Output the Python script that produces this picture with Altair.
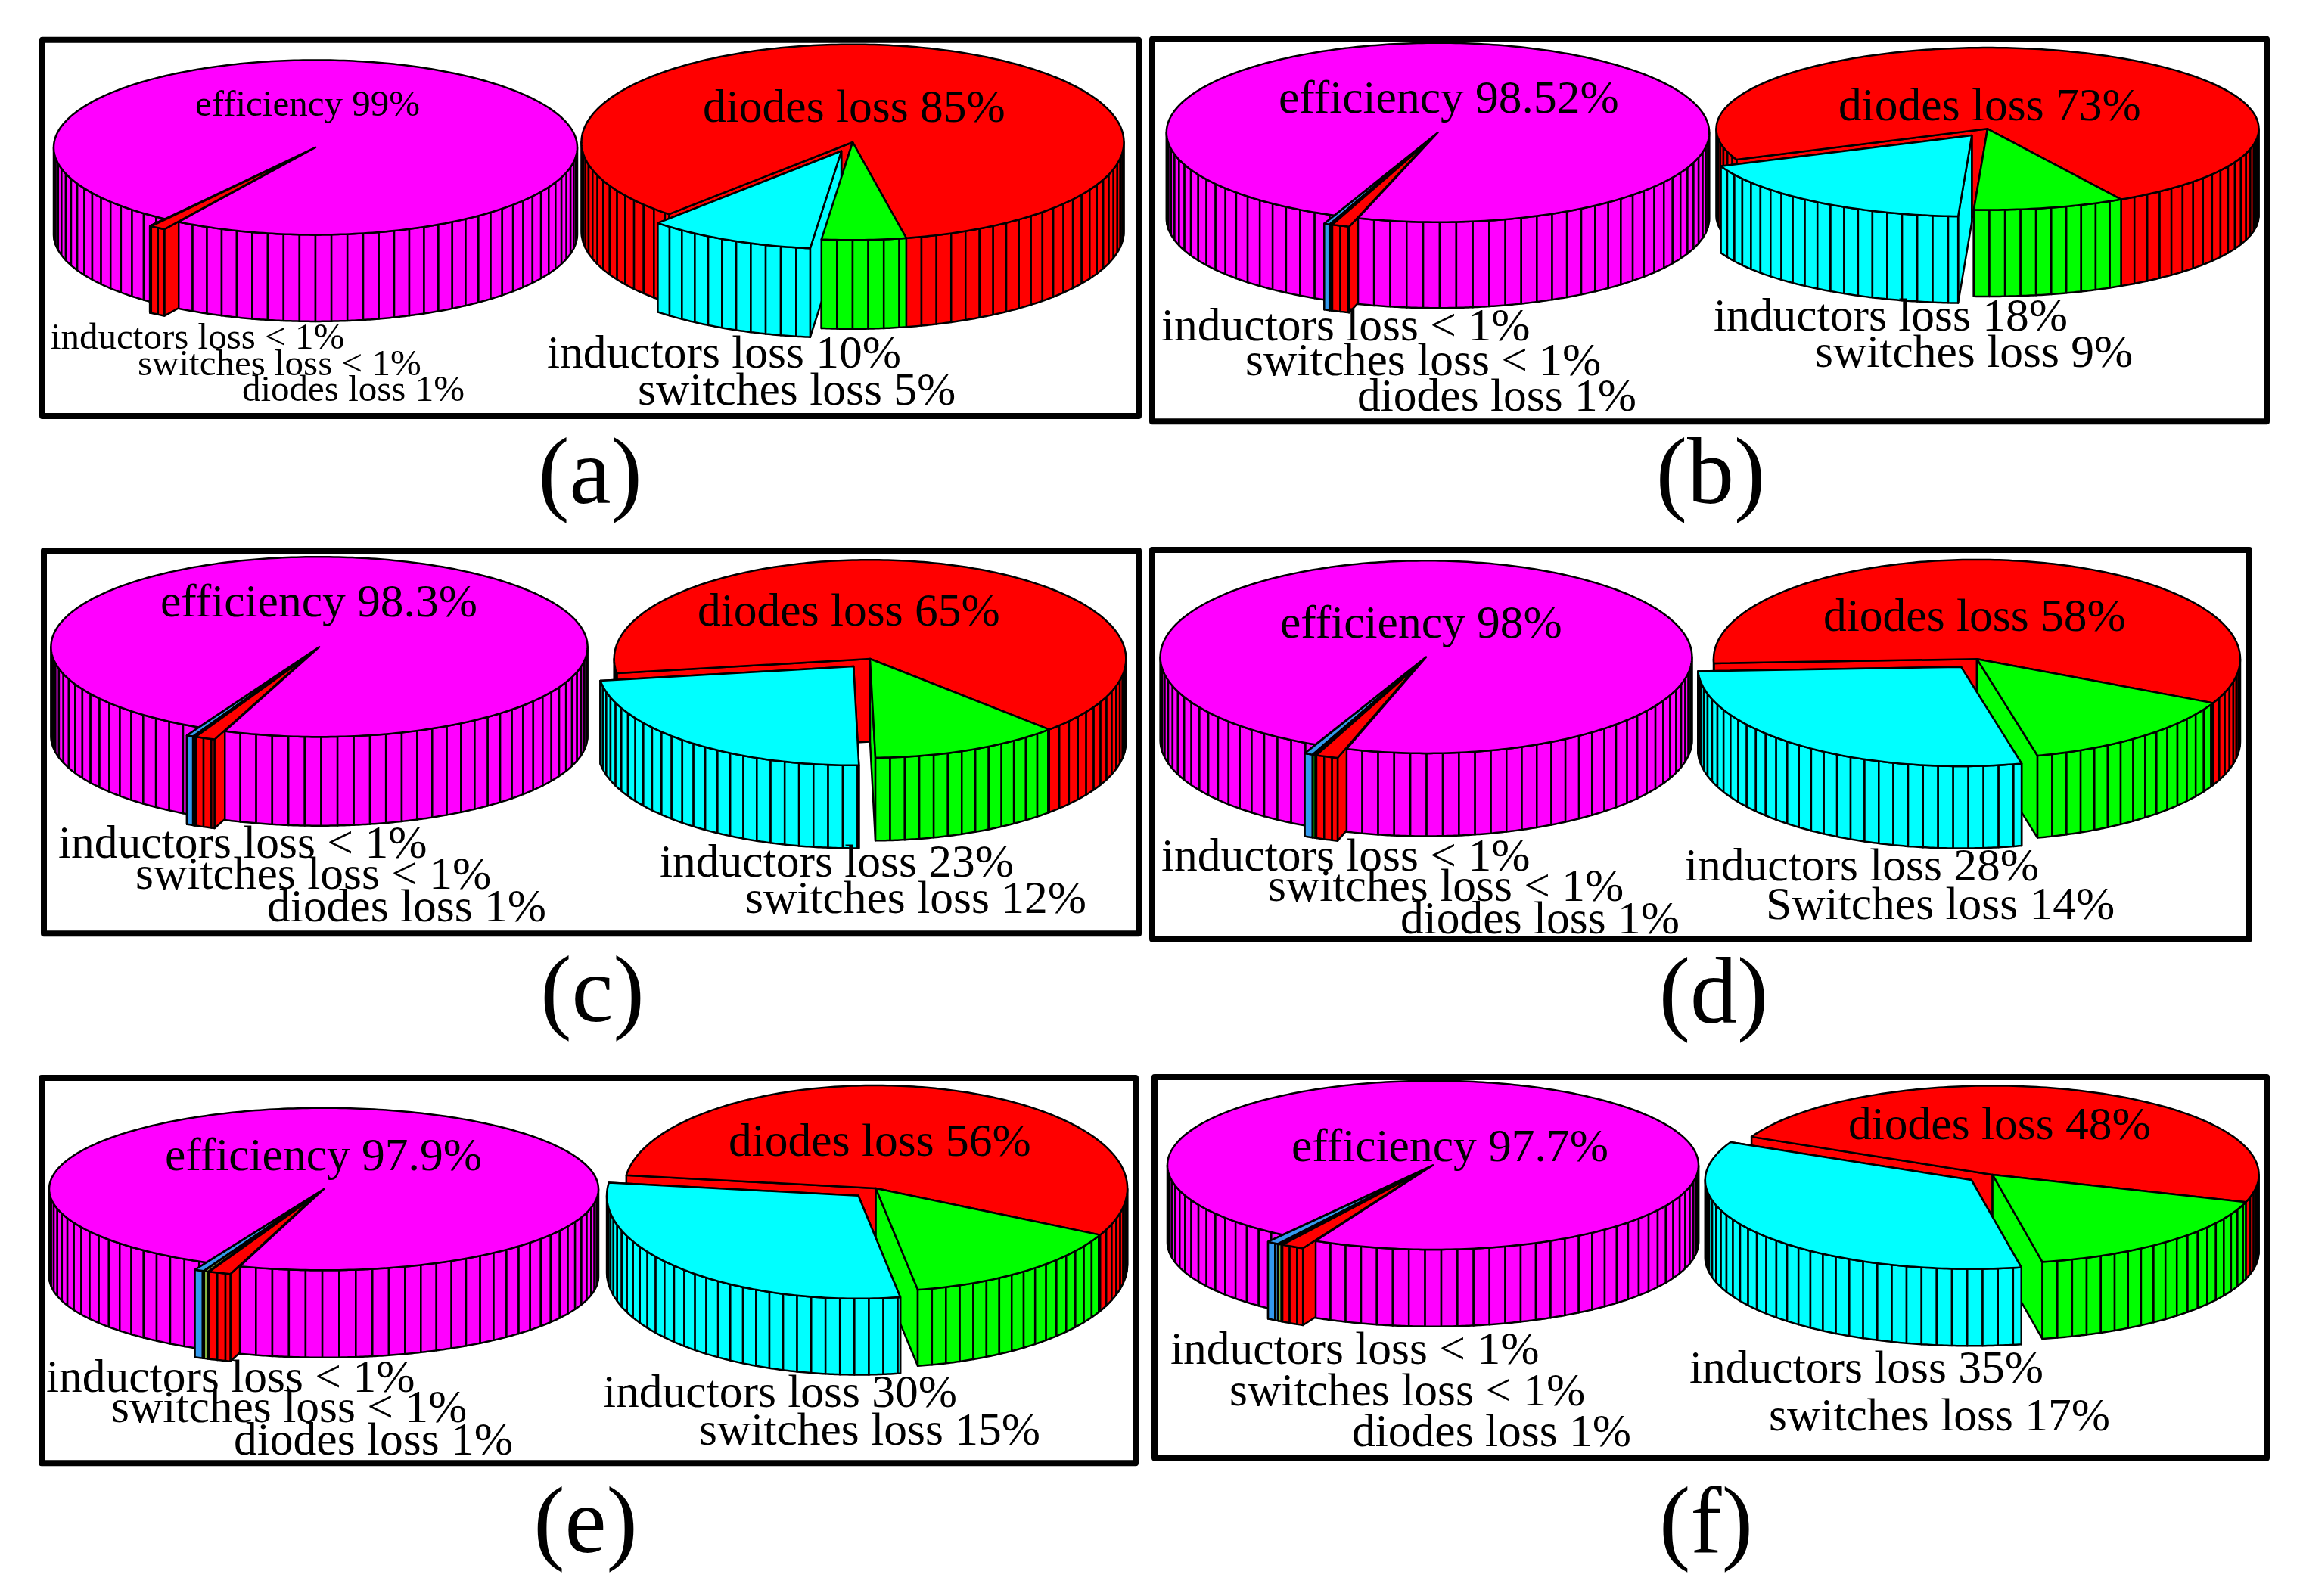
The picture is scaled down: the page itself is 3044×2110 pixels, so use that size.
import math
import altair as alt
import pandas as pd

# ---------- values (percent) ----------
efficiency = [99, 98.52, 98.3, 98, 97.9, 97.7]
left_inductors = [0.02, 0.33, 0.4, 0.5, 0.55, 0.7]
left_switches = [0.02, 0.1, 0.1, 0.15, 0.25, 0.2]
left_diodes = [0.96, 1.05, 1.2, 1.35, 1.3, 1.4]
right_diodes = [85, 73, 65, 58, 56, 48]
right_inductors = [10, 18, 23, 28, 30, 35]
right_switches = [5, 9, 12, 14, 15, 17]
panel_names = ["(a)", "(b)", "(c)", "(d)", "(e)", "(f)"]

# ---------- layout: pie geometry, frame and text anchors (image pixels) ----------
left_geom = [  # cx, cy, rx, ry, depth, wedge end angle
    (417, 194.9, 346, 115.5, 114.5, -31.5),
    (1900.5, 175.2, 358.7, 118.5, 113.5, -17.1),
    (422, 855.2, 354.6, 119, 117.5, -20.6),
    (1885, 868.6, 351.4, 127.3, 109.6, -17.4),
    (428, 1572, 363, 107.3, 115.5, -17.8),
    (1894, 1540.4, 351, 111.6, 101.7, -26.2),
]
right_geom = [  # cx, cy, rx, ry, depth, switches start angle
    (1127, 188, 358.5, 129.3, 117.5, -6.6),
    (2627, 170.3, 358.5, 107.2, 114.5, -2.9),
    (1150, 871, 338.3, 130.8, 109.6, 1.2),
    (2613, 871.2, 348, 131.3, 108.6, 13.3),
    (1157.6, 1571, 332.5, 136, 100.7, 9.6),
    (2633.6, 1552.9, 352, 117.5, 101.7, 10.8),
]
frames = [
    (56, 52.7, 1505, 550), (1523, 51.8, 2996, 557.3),
    (58, 727.9, 1505, 1234.3), (1523, 727, 2973, 1241.4),
    (55, 1425, 1501, 1934.3), (1526, 1424, 2996, 1927.4),
]
labels = [
    ("efficiency 99%", 258, 153.4, 49), ("diodes loss 85%", 929, 161.3, 61.5),
    ("inductors loss < 1%", 67, 461.4, 49), ("switches loss < 1%", 182, 496, 49),
    ("diodes loss 1%", 320, 529.5, 49), ("inductors loss 10%", 723, 486, 61.5),
    ("switches loss 5%", 843, 534.5, 61.5),
    ("efficiency 98.52%", 1690, 148.6, 61.5), ("diodes loss 73%", 2430, 158.5, 61.5),
    ("inductors loss < 1%", 1535, 449.7, 61.5), ("switches loss < 1%", 1646, 496, 61.5),
    ("diodes loss 1%", 1794, 542.5, 61.5), ("inductors loss 18%", 2265, 436.9, 61.5),
    ("switches loss 9%", 2399, 485.2, 61.5),
    ("efficiency 98.3%", 212, 814.8, 61.5), ("diodes loss 65%", 922, 826.6, 61.5),
    ("inductors loss < 1%", 77, 1134.1, 61.5), ("switches loss < 1%", 179, 1175, 61.5),
    ("diodes loss 1%", 353, 1217.5, 61.5), ("inductors loss 23%", 872, 1159.3, 61.5),
    ("switches loss 12%", 985, 1206.7, 61.5),
    ("efficiency 98%", 1692, 842.5, 61.5), ("diodes loss 58%", 2410, 833.7, 61.5),
    ("inductors loss < 1%", 1535, 1150.5, 61.5), ("switches loss < 1%", 1676, 1191, 61.5),
    ("diodes loss 1%", 1851, 1233.5, 61.5), ("inductors loss 28%", 2227, 1164.4, 61.5),
    ("Switches loss 14%", 2334, 1214.7, 61.5),
    ("efficiency 97.9%", 218, 1547.3, 61.5), ("diodes loss 56%", 963, 1527.6, 61.5),
    ("inductors loss < 1%", 61, 1839.6, 61.5), ("switches loss < 1%", 147, 1880, 61.5),
    ("diodes loss 1%", 309, 1922.5, 61.5), ("inductors loss 30%", 797, 1860.3, 61.5),
    ("switches loss 15%", 924, 1909.7, 61.5),
    ("efficiency 97.7%", 1707, 1534.5, 61.5), ("diodes loss 48%", 2443, 1505.9, 61.5),
    ("inductors loss < 1%", 1547, 1803, 61.5), ("switches loss < 1%", 1625, 1857.8, 61.5),
    ("diodes loss 1%", 1787, 1911.6, 61.5), ("inductors loss 35%", 2233, 1827.7, 61.5),
    ("switches loss 17%", 2338, 1890.9, 61.5),
]
panel_anchor = [(780, 665), (2261, 665), (783, 1350), (2265, 1352), (774, 2052), (2255, 2052)]

MAGENTA, RED, GREEN, CYAN, BLUE = "#ff00ff", "#ff0000", "#00ff00", "#00ffff", "#3399ee"
OLIVE = "#88bb44"
EXPLODE = 0.1
PAGE = 8
W, H = 3028, 2094


def feature(ring, color):
    pts = [[round(x - PAGE, 2), round(y - PAGE, 2)] for x, y in ring]
    pts.append(pts[0])
    return {
        "type": "Feature",
        "geometry": {"type": "Polygon", "coordinates": [pts]},
        "properties": {"c": color},
    }


class Pie:
    def __init__(self, g):
        self.cx, self.cy, self.rx, self.ry, self.d = g[:5]

    def rim(self, t, off=(0, 0), drop=0):
        r = math.radians(t)
        return (self.cx + self.rx * math.sin(r) + off[0],
                self.cy + self.ry * math.cos(r) + off[1] + drop)

    def offset(self, a, b, e):
        m = math.radians((a + b) / 2)
        return (e * self.rx * math.sin(m), e * self.ry * math.cos(m))

    def face(self, t, off, color):
        c = (self.cx + off[0], self.cy + off[1])
        p = self.rim(t, off)
        return feature([c, p, (p[0], p[1] + self.d), (c[0], c[1] + self.d)], color)

    def cells(self, a, b, off, color, step):
        a, b = max(a, -90), min(b, 90)
        out = []
        t = a
        while t < b - 1e-6:
            n = min(t + step, b)
            k = max(2, int((n - t) / 0.5) + 1)
            ts = [t + (n - t) * i / (k - 1) for i in range(k)]
            upper = [self.rim(x, off) for x in ts]
            lower = [self.rim(x, off, self.d) for x in reversed(ts)]
            out.append(feature(upper + lower, color))
            t = n
        return out

    def top(self, a, b, off, color):
        k = max(2, int((b - a) / 1.0) + 1)
        arc = [self.rim(a + (b - a) * i / (k - 1), off) for i in range(k)]
        return feature([(self.cx + off[0], self.cy + off[1])] + arc, color)

    def slice(self, a, b, off, color, step):
        out = [self.face(a, off, color), self.face(b, off, color)]
        out += self.cells(a, b, off, color, step)
        out.append(self.top(a, b, off, color))
        return out


shapes = []
for i in range(6):
    # efficiency pie
    p = Pie(left_geom[i])
    end = left_geom[i][5]
    vals = [left_inductors[i], left_switches[i], left_diodes[i]]
    cols = [BLUE, GREEN if i == 3 else OLIVE, RED]
    start = end - sum(vals) * 3.6
    shapes += [p.face(start, (0, 0), MAGENTA), p.face(end, (0, 0), MAGENTA)]
    shapes += p.cells(-90, start, (0, 0), MAGENTA, 3.5)
    t = start
    for v, c in zip(vals, cols):
        n = t + v * 3.6
        shapes += p.slice(t, n, p.offset(t, n, EXPLODE), c, 1.8)
        t = n
    shapes += p.cells(end, 90, (0, 0), MAGENTA, 3.5)
    shapes.append(p.top(end, start + 360, (0, 0), MAGENTA))

    # loss pie
    p = Pie(right_geom[i])
    g0 = right_geom[i][5]
    total = right_diodes[i] + right_inductors[i] + right_switches[i]
    g1 = g0 + right_switches[i] / total * 360
    c0 = g0 - right_inductors[i] / total * 360
    off = p.offset(c0, g0, EXPLODE)
    # diodes
    shapes += [p.face(g1, (0, 0), RED), p.face(c0, (0, 0), RED)]
    shapes += p.cells(g1, 90, (0, 0), RED, 3.3) + p.cells(-90, c0, (0, 0), RED, 3.3)
    shapes.append(p.top(g1, c0 + 360, (0, 0), RED))
    # radial faces behind, then the walls and tops in front
    shapes.append(p.face(g0, (0, 0), GREEN))
    shapes += [p.face(c0, off, CYAN), p.face(g0, off, CYAN)]
    shapes += p.cells(g0, g1, (0, 0), GREEN, 3.3)
    shapes.append(p.top(g0, g1, (0, 0), GREEN))
    shapes += p.cells(c0, g0, off, CYAN, 3.3)
    shapes.append(p.top(c0, g0, off, CYAN))

frame_shapes = [
    feature([(a, b), (c, b), (c, d), (a, d)], "none") for a, b, c, d in frames
]

projection = alt.Projection(type="identity", scale=1, translate=[0, 0])

frame_layer = (
    alt.Chart(alt.Data(values=frame_shapes))
    .mark_geoshape(filled=False, stroke="black", strokeWidth=8, strokeJoin="round")
    .project(**projection.to_dict())
)
pie_layer = (
    alt.Chart(alt.Data(values=shapes))
    .mark_geoshape(stroke="black", strokeWidth=2.5, strokeJoin="round")
    .encode(fill=alt.Fill("properties.c:N", scale=None))
    .project(**projection.to_dict())
)

label_df = pd.DataFrame(labels, columns=["t", "x", "y", "s"])
label_df["x"] -= PAGE
label_df["y"] -= PAGE
panel_df = pd.DataFrame(
    {
        "t": panel_names,
        "x": [a[0] - PAGE for a in panel_anchor],
        "y": [a[1] - PAGE for a in panel_anchor],
    }
)

text_layer = (
    alt.Chart(label_df)
    .mark_text(align="left", baseline="alphabetic", font="Liberation Serif", color="black")
    .encode(
        x=alt.X("x:Q", scale=None, axis=None),
        y=alt.Y("y:Q", scale=None, axis=None),
        text="t:N",
        size=alt.Size("s:Q", scale=None, legend=None),
    )
)
panel_layer = (
    alt.Chart(panel_df)
    .mark_text(align="center", baseline="alphabetic", font="Liberation Serif", color="black", fontSize=124)
    .encode(
        x=alt.X("x:Q", scale=None, axis=None),
        y=alt.Y("y:Q", scale=None, axis=None),
        text="t:N",
    )
)

chart = (
    alt.layer(frame_layer, pie_layer, text_layer, panel_layer)
    .properties(width=W, height=H, padding=0, autosize=alt.AutoSizeParams(type="none"))
    .configure_view(stroke=None)
)

chart.save("out.html", embed_options={"renderer": "svg", "actions": False})
